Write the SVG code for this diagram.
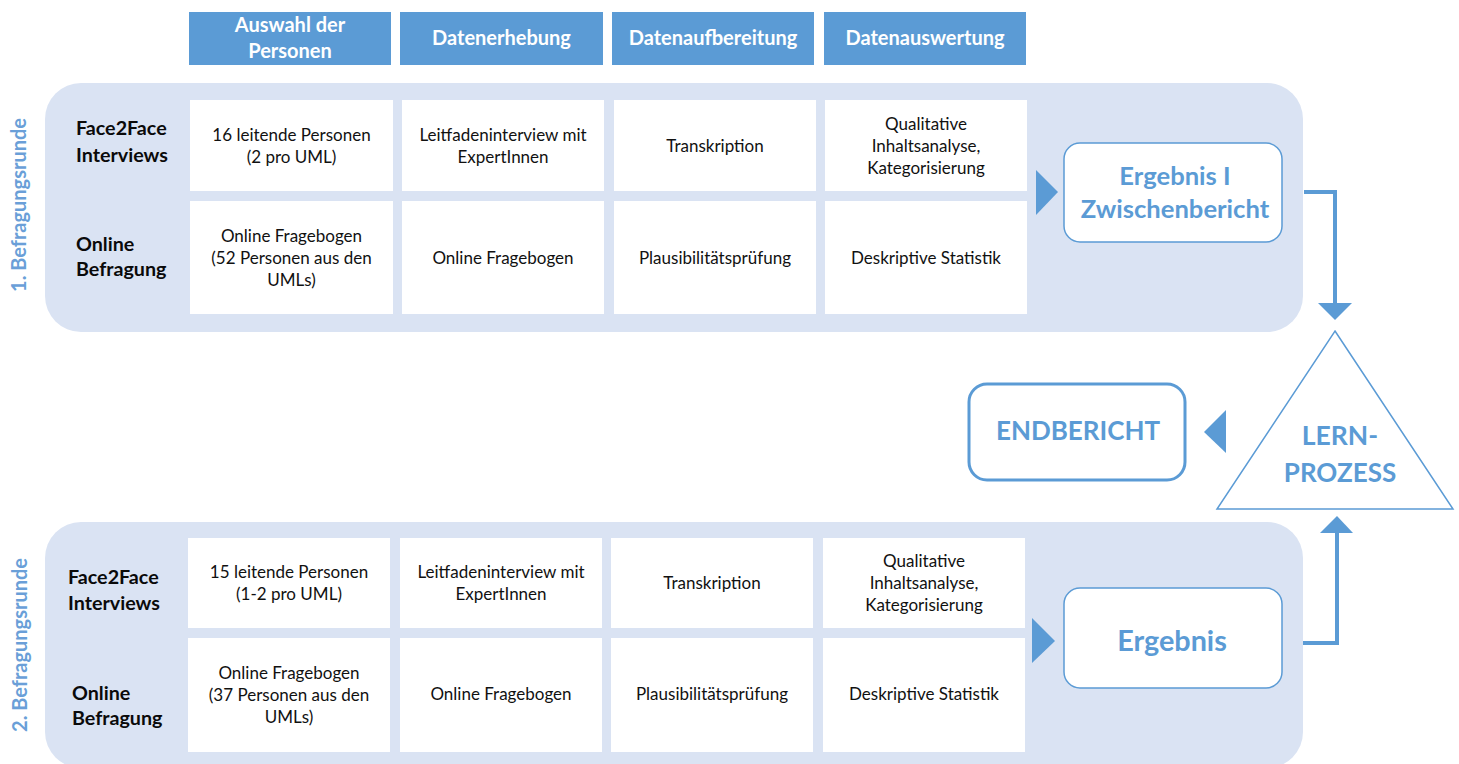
<svg xmlns="http://www.w3.org/2000/svg" width="1459" height="764" viewBox="0 0 1459 764">
<defs>
<style>
.hdr{fill:#5b9bd5}
.hdrt{font-family:Lato,"Liberation Sans",sans-serif;font-weight:bold;font-size:20px;fill:#fff;text-anchor:middle}
.panel{fill:#dae3f3}
.cell{fill:#fff}
.ct{font-family:Lato,"Liberation Sans",sans-serif;font-size:17px;fill:#111;text-anchor:middle}
.rl{font-family:Lato,"Liberation Sans",sans-serif;font-weight:bold;font-size:19.7px;fill:#0a0a0a}
.vl{font-family:Lato,"Liberation Sans",sans-serif;font-weight:bold;font-size:20px;fill:#6a9fd8;text-anchor:middle}
.res{fill:#fff;stroke:#5b9bd5;stroke-width:1.5}
.bt{font-family:Lato,"Liberation Sans",sans-serif;font-weight:bold;fill:#5b9bd5;text-anchor:middle}
.tri{fill:#5b9bd5}
.conn{fill:none;stroke:#5b9bd5;stroke-width:4}
</style>
</defs>
<rect width="1459" height="764" fill="#fff"/>

<g id="headers">
<g id="h1"><rect class="hdr" x="189" y="12" width="202" height="53"/><text class="hdrt" x="290" y="32">Auswahl der</text><text class="hdrt" x="290" y="58">Personen</text></g>
<g id="h2"><rect class="hdr" x="400" y="12" width="203" height="53"/><text class="hdrt" x="501.5" y="45">Datenerhebung</text></g>
<g id="h3"><rect class="hdr" x="612" y="12" width="202" height="53"/><text class="hdrt" x="713" y="45">Datenaufbereitung</text></g>
<g id="h4"><rect class="hdr" x="824" y="12" width="202" height="53"/><text class="hdrt" x="925" y="45">Datenauswertung</text></g>
</g>

<g id="round1">
<rect class="panel" x="45" y="83" width="1258" height="249" rx="36"/>
<text class="vl" transform="translate(26,205) rotate(-90)">1. Befragungsrunde</text>
<text class="rl" x="76" y="135">Face2Face</text>
<text class="rl" x="76" y="162">Interviews</text>
<text class="rl" x="76" y="251">Online</text>
<text class="rl" x="76" y="276">Befragung</text>
<g id="r1c1"><rect class="cell" x="190" y="100" width="203" height="91"/><text class="ct" x="291.5" y="141">16 leitende Personen</text><text class="ct" x="291.5" y="163">(2 pro UML)</text></g>
<g id="r1c2"><rect class="cell" x="402" y="100" width="202" height="91"/><text class="ct" x="503" y="141">Leitfadeninterview mit</text><text class="ct" x="503" y="163">ExpertInnen</text></g>
<g id="r1c3"><rect class="cell" x="614" y="100" width="202" height="91"/><text class="ct" x="715" y="152">Transkription</text></g>
<g id="r1c4"><rect class="cell" x="825" y="100" width="202" height="91"/><text class="ct" x="926" y="130">Qualitative</text><text class="ct" x="926" y="152">Inhaltsanalyse,</text><text class="ct" x="926" y="174">Kategorisierung</text></g>
<g id="r1c5"><rect class="cell" x="190" y="201" width="203" height="113"/><text class="ct" x="291.5" y="242">Online Fragebogen</text><text class="ct" x="291.5" y="264">(52 Personen aus den</text><text class="ct" x="291.5" y="286">UMLs)</text></g>
<g id="r1c6"><rect class="cell" x="402" y="201" width="202" height="113"/><text class="ct" x="503" y="264">Online Fragebogen</text></g>
<g id="r1c7"><rect class="cell" x="614" y="201" width="202" height="113"/><text class="ct" x="715" y="264">Plausibilitätsprüfung</text></g>
<g id="r1c8"><rect class="cell" x="825" y="201" width="202" height="113"/><text class="ct" x="926" y="264">Deskriptive Statistik</text></g>
<polygon class="tri" points="1036,170 1058,192 1036,215"/>
<g id="ergebnis1"><rect class="res" x="1064" y="143" width="218" height="99" rx="16"/><text class="bt" x="1175" y="185" font-size="25.6">Ergebnis I</text><text class="bt" x="1175" y="218" font-size="25.6">Zwischenbericht</text></g>
</g>

<g id="round2">
<rect class="panel" x="45" y="522" width="1258" height="246" rx="36"/>
<text class="vl" transform="translate(27,645) rotate(-90)">2. Befragungsrunde</text>
<text class="rl" x="68" y="584">Face2Face</text>
<text class="rl" x="68" y="610">Interviews</text>
<text class="rl" x="72" y="700">Online</text>
<text class="rl" x="72" y="725">Befragung</text>
<g id="r2c1"><rect class="cell" x="188" y="538" width="202" height="90"/><text class="ct" x="289" y="578">15 leitende Personen</text><text class="ct" x="289" y="600">(1-2 pro UML)</text></g>
<g id="r2c2"><rect class="cell" x="400" y="538" width="202" height="90"/><text class="ct" x="501" y="578">Leitfadeninterview mit</text><text class="ct" x="501" y="600">ExpertInnen</text></g>
<g id="r2c3"><rect class="cell" x="611" y="538" width="202" height="90"/><text class="ct" x="712" y="589">Transkription</text></g>
<g id="r2c4"><rect class="cell" x="823" y="538" width="202" height="90"/><text class="ct" x="924" y="567">Qualitative</text><text class="ct" x="924" y="589">Inhaltsanalyse,</text><text class="ct" x="924" y="611">Kategorisierung</text></g>
<g id="r2c5"><rect class="cell" x="188" y="638" width="202" height="114"/><text class="ct" x="289" y="679">Online Fragebogen</text><text class="ct" x="289" y="701">(37 Personen aus den</text><text class="ct" x="289" y="723">UMLs)</text></g>
<g id="r2c6"><rect class="cell" x="400" y="638" width="202" height="114"/><text class="ct" x="501" y="700">Online Fragebogen</text></g>
<g id="r2c7"><rect class="cell" x="611" y="638" width="202" height="114"/><text class="ct" x="712" y="700">Plausibilitätsprüfung</text></g>
<g id="r2c8"><rect class="cell" x="823" y="638" width="202" height="114"/><text class="ct" x="924" y="700">Deskriptive Statistik</text></g>
<polygon class="tri" points="1032,618 1055,641 1032,663"/>
<g id="ergebnis2"><rect class="res" x="1064" y="588" width="218" height="100" rx="16"/><text class="bt" x="1172" y="651" font-size="28.8">Ergebnis</text></g>
</g>

<g id="lernprozess"><polygon points="1335,331 1453,509 1217,509" fill="#fff" stroke="#5b9bd5" stroke-width="1.5"/><text class="bt" x="1340" y="445" font-size="26.5">LERN-</text><text class="bt" x="1340" y="482" font-size="26">PROZESS</text></g>

<g id="endbericht"><rect x="969" y="384" width="216" height="96" rx="18" fill="#fff" stroke="#5b9bd5" stroke-width="3"/><text class="bt" x="1078" y="440" font-size="26">ENDBERICHT</text></g>

<g id="connectors">
<polyline class="conn" points="1304,192 1335,192 1335,305"/>
<polygon class="tri" points="1318,303 1352,303 1335,320"/>
<polyline class="conn" points="1303,643 1337,643 1337,531"/>
<polygon class="tri" points="1320,533 1353,533 1337,516"/>
<polygon class="tri" points="1226,410 1204,432 1226,453"/>
</g>
</svg>
